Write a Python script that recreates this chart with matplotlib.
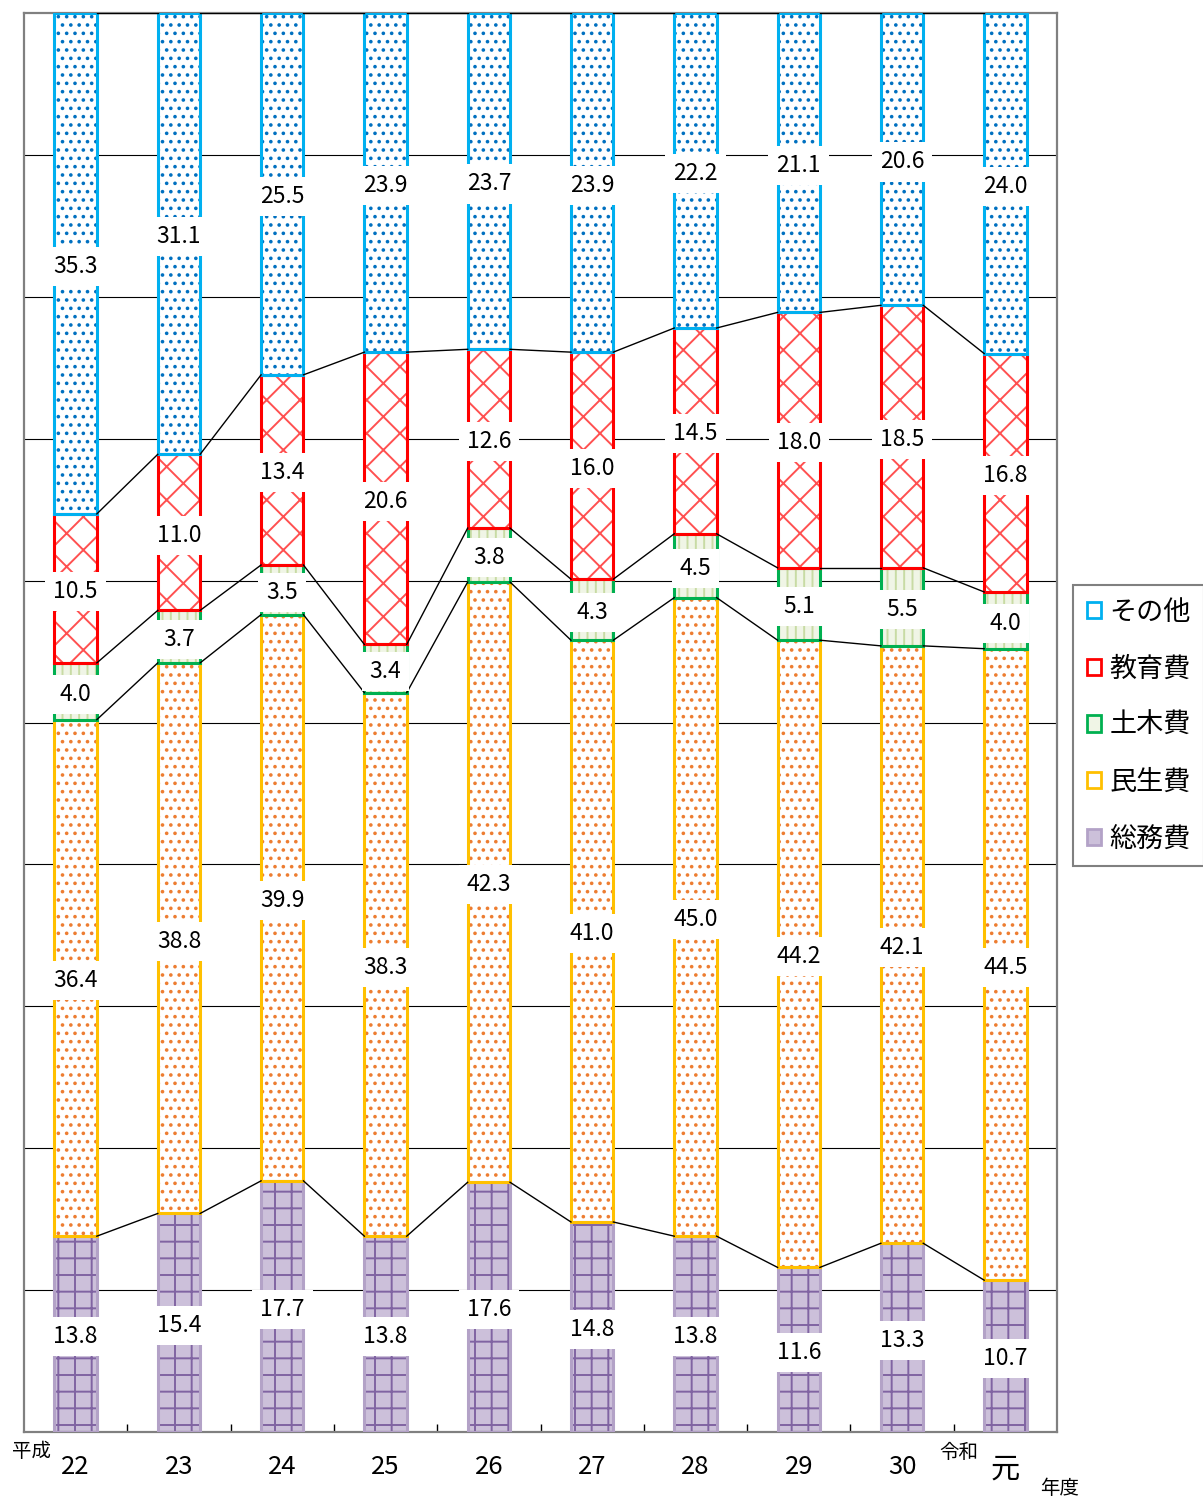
import matplotlib
matplotlib.use("Agg")
import matplotlib.pyplot as plt
from matplotlib.patches import Patch
import numpy as np

plt.rcParams["font.family"] = ["Noto Sans CJK JP", "DejaVu Sans"]
plt.rcParams["hatch.linewidth"] = 1.4

years = ["22", "23", "24", "25", "26", "27", "28", "29", "30", "元"]

soumu = [13.8, 15.4, 17.7, 13.8, 17.6, 14.8, 13.8, 11.6, 13.3, 10.7]
minsei = [36.4, 38.8, 39.9, 38.3, 42.3, 41.0, 45.0, 44.2, 42.1, 44.5]
doboku = [4.0, 3.7, 3.5, 3.4, 3.8, 4.3, 4.5, 5.1, 5.5, 4.0]
kyouiku = [10.5, 11.0, 13.4, 20.6, 12.6, 16.0, 14.5, 18.0, 18.5, 16.8]
sonota = [35.3, 31.1, 25.5, 23.9, 23.7, 23.9, 22.2, 21.1, 20.6, 24.0]

series_names = ["総務費", "民生費", "土木費", "教育費", "その他"]
series_values = [soumu, minsei, doboku, kyouiku, sonota]

# face, hatch colour, edge colour, hatch
styles = [
    ("#ccc0da", "#8064a2", "#b3a2c7", "+"),
    ("white", "#ed7d31", "#ffc000", ".."),
    ("#f0f5e6", "#c8dba4", "#00b050", "||"),
    ("white", "#ff5050", "#ff0000", "x"),
    ("white", "#0070c0", "#00b0f0", ".."),
]

fig = plt.figure(figsize=(12.03, 14.97), dpi=100)
ax = fig.add_axes([24 / 1203, 65 / 1497, 1033 / 1203, 1419 / 1497])

x = np.arange(len(years))
w = 0.41

ax.set_xlim(-0.5, len(years) - 0.5)
ax.set_ylim(0, 100)
for gy in range(10, 100, 10):
    ax.axhline(gy, color="black", lw=0.8, zorder=0)

bottom = np.zeros(len(years))
levels = []
for vals, (face, hcol, ecol, hatch) in zip(series_values, styles):
    vals = np.array(vals)
    ax.bar(x, vals, w, bottom=bottom, color=face, edgecolor=hcol,
           hatch=hatch, linewidth=0, zorder=2)
    ax.bar(x, vals, w, bottom=bottom, color="none", edgecolor=ecol,
           linewidth=2.2, zorder=3)
    mids = bottom + vals / 2
    for xi, m, v in zip(x, mids, vals):
        ax.text(xi, m - 0.2, f"{v:.1f}", ha="center", va="center",
                fontsize=16.5, zorder=6,
                bbox=dict(boxstyle="square,pad=0.35", fc="white", ec="none"))
    bottom = bottom + vals
    levels.append(bottom.copy())

# connecting lines between bars
for lev in levels:
    for i in range(len(years) - 1):
        ax.plot([x[i] + w / 2, x[i + 1] - w / 2], [lev[i], lev[i + 1]],
                color="black", lw=1.0, zorder=4)

for s in ax.spines.values():
    s.set_color("#808080")
    s.set_linewidth(1.6)

ax.set_yticks([])
ax.set_xticks(x)
ax.set_xticklabels(years, fontsize=18.5)
ax.get_xticklabels()[-1].set_fontsize(21)
ax.tick_params(axis="x", which="major", length=0, pad=16)
ax.set_xticks(np.arange(0.5, len(years) - 1, 1.0), minor=True)
ax.tick_params(axis="x", which="minor", direction="in", length=6, width=1,
               color="black")

tr = ax.get_xaxis_transform()
ax.text(-0.432, -0.0134, "平成", transform=tr, ha="center", va="center",
        fontsize=14)
ax.text(8.55, -0.0141, "令和", transform=tr, ha="center", va="center",
        fontsize=14)
ax.text(9.53, -0.040, "年度", transform=tr, ha="center", va="center",
        fontsize=14)

handles = []
for name, (face, hcol, ecol, hatch) in zip(series_names, styles):
    handles.append(Patch(facecolor=face, edgecolor=ecol, linewidth=2,
                         label=name))
handles = handles[::-1]
leg = fig.legend(handles=handles, loc="upper left",
                 bbox_to_anchor=(1073 / 1203, 1 - 585 / 1497),
                 bbox_transform=fig.transFigure, fontsize=19.5,
                 handlelength=0.55, handleheight=0.55, handletextpad=0.3,
                 labelspacing=1.1, borderpad=0.5, borderaxespad=0,
                 fancybox=False, framealpha=1, edgecolor="#808080")
leg.get_frame().set_linewidth(1.5)

fig.savefig("out.png", dpi=100)
